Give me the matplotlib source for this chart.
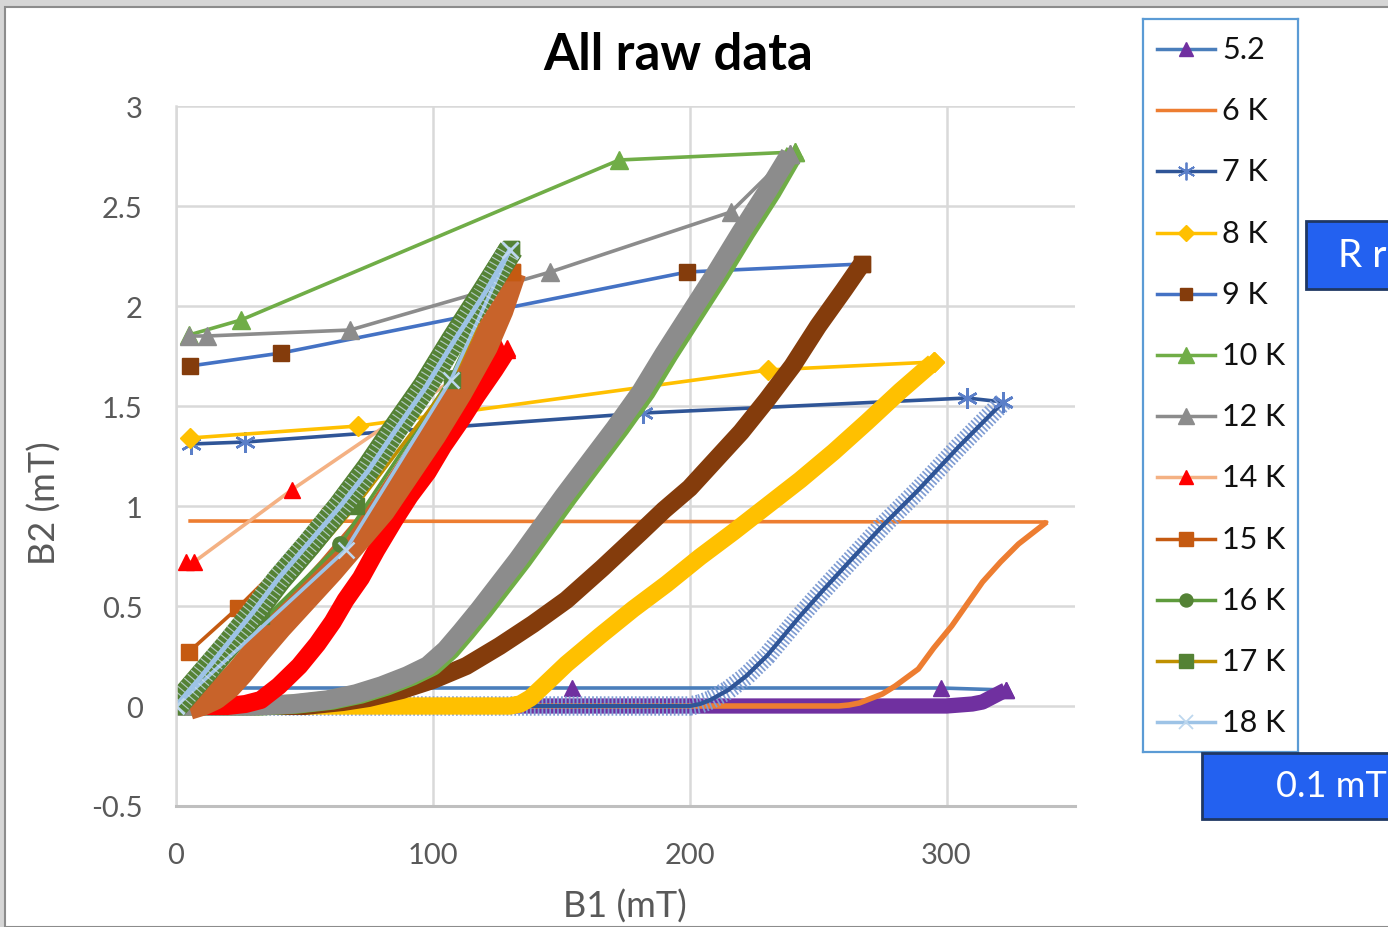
import matplotlib
matplotlib.use("Agg")
import matplotlib.pyplot as plt
from matplotlib.patches import Rectangle
from matplotlib.ticker import FuncFormatter

plt.rcParams['font.family'] = ['Lato', 'DejaVu Sans']

W, H = 1388, 928          # canvas size in pixels (dpi 100)

# ---- readings: B1 (mT) and B2 (mT), ramp up first, then the way back ----
b1_up_52 = [0, 40, 80, 120, 160, 200, 240, 280, 300, 305, 310, 314, 317, 320, 323]
b2_up_52 = [0, 0, 0, 0, 0, 0, 0, 0, 0, 0.005, 0.01, 0.02, 0.04, 0.06, 0.08]
b1_back_52 = [323, 298, 154, 6]
b2_back_52 = [0.08, 0.09, 0.09, 0.09]

b1_up_6 = [0, 60, 120, 180, 240, 258, 262, 266, 270, 275, 280, 289, 295, 302,
           308, 314, 321, 328, 334, 339]
b2_up_6 = [0, 0, 0, 0, 0, 0, 0.005, 0.015, 0.035, 0.06, 0.1, 0.185, 0.29, 0.4,
           0.51, 0.62, 0.72, 0.81, 0.87, 0.92]
b1_back_6 = [339, 5.5]
b2_back_6 = [0.92, 0.925]

b1_up_7 = [0, 50, 100, 150, 190, 200, 204, 208, 215, 222, 230, 243, 252, 262,
           275, 289, 305, 322]
b2_up_7 = [0, 0, 0, 0, 0, 0, 0.01, 0.03, 0.08, 0.15, 0.25, 0.45, 0.58, 0.72,
           0.9, 1.08, 1.3, 1.52]
b1_back_7 = [322, 308, 182, 27, 6]
b2_back_7 = [1.52, 1.54, 1.465, 1.32, 1.31]

b1_up_8 = [0, 40, 80, 120, 130, 134, 138, 143, 152, 165, 178, 191, 204, 217,
           230, 243, 256, 269, 282, 295]
b2_up_8 = [0, 0, 0, 0, 0, 0.01, 0.04, 0.1, 0.21, 0.35, 0.485, 0.61, 0.745,
           0.87, 1.0, 1.13, 1.27, 1.42, 1.575, 1.72]
b1_back_8 = [295, 230.5, 71, 5.5]
b2_back_8 = [1.72, 1.68, 1.40, 1.34]

b1_up_9 = [0, 50, 65, 75, 88, 100, 113, 126, 139, 152, 166, 181, 190, 200,
           210, 220, 230, 240, 250, 260, 267]
b2_up_9 = [0, 0, 0.02, 0.04, 0.08, 0.13, 0.2, 0.3, 0.41, 0.53, 0.69, 0.87,
           0.98, 1.09, 1.23, 1.37, 1.53, 1.7, 1.9, 2.08, 2.21]
b1_back_9 = [267, 199, 41, 5.5]
b2_back_9 = [2.21, 2.17, 1.765, 1.70]

b1_up_10 = [0, 32, 47, 61, 72, 82, 92, 100, 107, 113, 120, 126, 135, 144,
            153, 163, 173, 183, 192, 202, 212, 222, 232, 241]
b2_up_10 = [0, 0, 0.01, 0.03, 0.06, 0.1, 0.15, 0.2, 0.28, 0.37, 0.48, 0.58,
            0.73, 0.89, 1.05, 1.22, 1.39, 1.57, 1.76, 1.96, 2.16, 2.37, 2.57, 2.77]
b1_back_10 = [241, 172.5, 25.3, 5]
b2_back_10 = [2.77, 2.73, 1.93, 1.855]

b1_up_12 = [0, 30, 45, 59, 70, 80, 90, 98, 105, 111, 118, 124, 133, 142,
            151, 161, 171, 181, 190, 200, 210, 220, 230, 239]
b2_up_12 = [0, 0, 0.01, 0.03, 0.06, 0.1, 0.15, 0.2, 0.28, 0.37, 0.48, 0.58,
            0.73, 0.89, 1.05, 1.22, 1.39, 1.57, 1.76, 1.96, 2.16, 2.37, 2.57, 2.76]
b1_back_12 = [239, 216, 145.7, 67.8, 12, 5]
b2_back_12 = [2.76, 2.47, 2.17, 1.88, 1.85, 1.85]

b1_up_14 = [8, 14, 20, 27, 33, 40, 48, 55, 61, 66, 72, 78, 85, 91, 98, 104,
            111, 117, 124, 129]
b2_up_14 = [0, 0, 0, 0.01, 0.03, 0.1, 0.2, 0.31, 0.42, 0.53, 0.64, 0.78,
            0.93, 1.05, 1.17, 1.3, 1.43, 1.55, 1.68, 1.78]
b1_back_14 = [129, 126, 45, 7, 4]
b2_back_14 = [1.79, 1.79, 1.08, 0.72, 0.72]

b1_up_15 = [5, 10, 15, 20, 25, 32, 40, 50, 60, 70, 80, 90, 100, 110, 120, 126, 131]
b2_up_15 = [0, 0.02, 0.05, 0.1, 0.17, 0.28, 0.4, 0.54, 0.68, 0.83, 0.98,
            1.17, 1.36, 1.57, 1.8, 1.98, 2.17]
b1_back_15 = [131, 60, 24, 5]
b2_back_15 = [2.17, 0.95, 0.49, 0.27]

b1_up_16 = [0, 10, 20, 30, 40, 52, 64, 75, 85, 97, 108, 120, 130]
b2_up_16 = [0, 0.15, 0.3, 0.46, 0.63, 0.81, 1.0, 1.19, 1.38, 1.6, 1.83, 2.07, 2.28]
b1_back_16 = [130, 107, 64, 0]
b2_back_16 = [2.28, 1.64, 0.81, 0]

b1_up_17 = [0, 10, 20, 30, 40, 52, 64, 75, 85, 97, 108, 120, 130.5]
b2_up_17 = [0, 0.15, 0.3, 0.46, 0.63, 0.81, 1.0, 1.19, 1.38, 1.6, 1.83, 2.07, 2.285]
b1_back_17 = [130.5, 107.5, 70, 33, 0]
b2_back_17 = [2.285, 1.63, 1.0, 0.45, 0]

b1_up_18 = [0, 10, 20, 30, 40, 52, 64, 75, 85, 97, 108, 120, 130]
b2_up_18 = [0, 0.15, 0.31, 0.47, 0.64, 0.82, 1.0, 1.18, 1.37, 1.59, 1.82, 2.06, 2.28]
b1_back_18 = [130, 107, 66, 0]
b2_back_18 = [2.28, 1.63, 0.78, 0]

labels = ['5.2', '6 K', '7 K', '8 K', '9 K', '10 K', '12 K', '14 K', '15 K',
          '16 K', '17 K', '18 K']

ASTERISK = (6, 2, 0)

series = [
    dict(up=(b1_up_52, b2_up_52), back=(b1_back_52, b2_back_52), line='#4A7EBB',
         marker='^', mc='#7030A0', ms=12, band='#7030A0', bw=11),
    dict(up=(b1_up_6, b2_up_6), back=(b1_back_6, b2_back_6), line='#ED7D31',
         marker=None, mc=None, ms=0, band='#ED7D31', bw=4),
    dict(up=(b1_up_7, b2_up_7), back=(b1_back_7, b2_back_7), line='#2F5597',
         marker=ASTERISK, mc='#5B7FC8', ms=15, band='hatch', bw=14),
    dict(up=(b1_up_8, b2_up_8), back=(b1_back_8, b2_back_8), line='#FFC000',
         marker='D', mc='#FFC000', ms=10, band='#FFC000', bw=12.5),
    dict(up=(b1_up_9, b2_up_9), back=(b1_back_9, b2_back_9), line='#4472C4',
         marker='s', mc='#843C0C', ms=11, band='#843C0C', bw=13),
    dict(up=(b1_up_10, b2_up_10), back=(b1_back_10, b2_back_10), line='#70AD47',
         marker='^', mc='#70AD47', ms=13, band='#70AD47', bw=14),
    dict(up=(b1_up_12, b2_up_12), back=(b1_back_12, b2_back_12), line='#8C8C8C',
         marker='^', mc='#8C8C8C', ms=13, band='#8C8C8C', bw=14),
    dict(up=(b1_up_14, b2_up_14), back=(b1_back_14, b2_back_14), line='#F4B183',
         marker='^', mc='#FF0000', ms=12, band='#FF0000', bw=13),
    dict(up=(b1_up_15, b2_up_15), back=(b1_back_15, b2_back_15), line='#C55A11',
         marker='s', mc='#C55A11', ms=12, band='#C8632A', bw=20),
    dict(up=(b1_up_16, b2_up_16), back=(b1_back_16, b2_back_16), line='#5E9B3C',
         marker='o', mc='#548235', ms=11, band='#548235', bw=17),
    dict(up=(b1_up_17, b2_up_17), back=(b1_back_17, b2_back_17), line='#BF9000',
         marker='s', mc='#548235', ms=12, band='#548235', bw=18),
    dict(up=(b1_up_18, b2_up_18), back=(b1_back_18, b2_back_18), line='#9DC3E6',
         marker='x', mc='#BDD7EE', ms=12, band='xhatch', bw=17),
]


def fx(x):
    return x / W


def fy(y):
    return 1 - y / H


fig = plt.figure(figsize=(W / 100, H / 100), dpi=100)
fig.patch.set_facecolor('#D6D6D6')
fig.add_artist(Rectangle((fx(5), 0), 1, fy(8), transform=fig.transFigure,
                         facecolor='white', edgecolor='#8C8C8C', lw=1.5, zorder=-5))

ax = fig.add_axes([fx(176), fy(807), (1075 - 176) / W, (807 - 107) / H])
ax.set_xlim(0, 350)
ax.set_ylim(-0.5, 3)
ax.set_xticks([0, 100, 200, 300])
ax.set_yticks([-0.5, 0, 0.5, 1, 1.5, 2, 2.5, 3])
ax.yaxis.set_major_formatter(FuncFormatter(lambda v, p: f'{v:g}'))
ax.grid(True, color='#D9D9D9', lw=1.8)
ax.set_axisbelow(True)
for side in ['top', 'right']:
    ax.spines[side].set_visible(False)
ax.spines['left'].set_color('#D9D9D9')
ax.spines['left'].set_linewidth(1.8)
ax.spines['bottom'].set_color('#BFBFBF')
ax.spines['bottom'].set_linewidth(2.2)
ax.tick_params(length=0, labelsize=21, labelcolor='#595959')
ax.tick_params(axis='y', pad=24)
ax.tick_params(axis='x', pad=26)


def marker_kw(s, scale=1.0, mew=1.8):
    kw = dict(ls='none', marker=s['marker'], ms=s['ms'] * scale)
    if s['marker'] in ('x', ASTERISK):
        kw.update(mec=s['mc'], mew=mew)
    else:
        kw.update(mfc=s['mc'], mec=s['mc'])
    return kw


for s in series:
    ux, uy = s['up']
    bx, by = s['back']
    # the series line runs through the ramp and back again
    ax.plot(ux + bx, uy + by, color=s['line'], lw=2.6, solid_joinstyle='round')
    band = s['band']
    if band == 'hatch':
        # stacked asterisks read as a striped band around the dark line
        ax.plot(ux, uy, color='#7F9CD3', lw=s['bw'], dashes=(0.09, 0.11),
                dash_capstyle='butt')
        ax.plot(ux, uy, color=s['line'], lw=3)
    elif band == 'xhatch':
        ax.plot(ux, uy, color='#D2E3F2', lw=s['bw'], dashes=(0.05, 0.17),
                dash_capstyle='butt', alpha=0.75)
        ax.plot(ux, uy, color=s['line'], lw=3.5)
    else:
        ax.plot(ux, uy, color=band, lw=s['bw'], solid_capstyle='butt',
                solid_joinstyle='round')
    if s['marker'] is not None:
        ax.plot(bx, by, **marker_kw(s))
        ax.plot([ux[-1]], [uy[-1]], **marker_kw(s))

# titles
fig.text(fx(678), fy(56), 'All raw data', ha='center', va='center',
         fontsize=36.5, fontweight='bold', color='black')
fig.text(fx(625), fy(907), 'B1 (mT)', ha='center', va='center',
         fontsize=26, color='#595959')
fig.text(fx(45), fy(503), 'B2 (mT)', ha='center', va='center', rotation=90,
         fontsize=26, color='#595959')

# legend panel
lx0, ly0, lx1, ly1 = 1143, 20, 1298, 753
lax = fig.add_axes([fx(lx0), fy(ly1), (lx1 - lx0) / W, (ly1 - ly0) / H])
lax.set_xlim(0, lx1 - lx0)
lax.set_ylim(ly1 - ly0, 0)
lax.set_xticks([])
lax.set_yticks([])
for sp in lax.spines.values():
    sp.set_color('#5B9BD5')
    sp.set_linewidth(1.6)
for i, (s, lab) in enumerate(zip(series, labels)):
    yy = 30 + i * 61.2
    lax.plot([14, 72], [yy, yy], color=s['line'], lw=2.5)
    if s['marker'] is not None:
        lax.plot([43], [yy], **marker_kw(s, 0.85, 1.3))
    lax.text(79, yy, lab, va='center', ha='left', fontsize=22, color='#111111')

# blue note boxes at the right edge
for (x0, y0, y1), txt, tx, fs in [((1306, 222, 290), 'R r', 1338, 28),
                                  ((1202, 754, 820), '0.1 mT', 1276, 26)]:
    fig.add_artist(Rectangle((fx(x0), fy(y1)), 1, (y1 - y0) / H,
                             transform=fig.transFigure, facecolor='#2361F0',
                             edgecolor='#1F3864', lw=2, zorder=3))
    fig.text(fx(tx), fy((y0 + y1) / 2), txt, ha='left', va='center',
             fontsize=fs, color='white', zorder=4)

fig.savefig('out.png', dpi=100, facecolor=fig.get_facecolor())
